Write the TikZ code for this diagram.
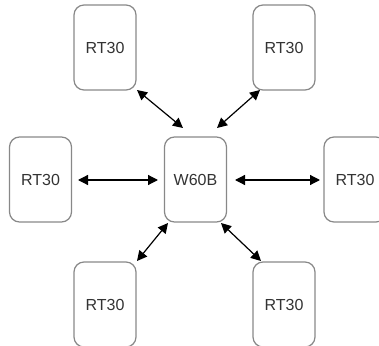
\documentclass[tikz,border=0pt]{standalone}
\usepackage{fontspec}
\setmainfont{Liberation Sans}
\usetikzlibrary{arrows.meta,calc}
\definecolor{boxline}{HTML}{888888}
\definecolor{txt}{HTML}{333333}
\begin{document}
\begin{tikzpicture}[x=0.75pt,y=-0.75pt,
  dev/.style={draw=boxline,line width=0.9pt,rounded corners=7.5pt,minimum width=62*0.75pt,minimum height=85*0.75pt,inner sep=0pt,text=txt,font=\fontsize{12pt}{14pt}\selectfont},
  link/.style={line width=0.9pt,{Triangle[length=7.5pt,width=7.5pt]}-{Triangle[length=7.5pt,width=7.5pt]}}]
\path[use as bounding box,clip] (0,0) rectangle (379,346);
\node[dev] (c) at (195.5,179.5) {W60B};
\node[dev] (tl) at (105,47.5) {RT30};
\node[dev] (tr) at (284,47.5) {RT30};
\node[dev] (l) at (40.5,179.5) {RT30};
\node[dev] (r) at (355,179.5) {RT30};
\node[dev] (bl) at (105,304.5) {RT30};
\node[dev] (br) at (284,304.5) {RT30};
\coordinate (tlA) at (137,90);
\coordinate (tlB) at (183,128);
\coordinate (trA) at (260,90);
\coordinate (trB) at (217,128);
\coordinate (lA) at (78,180);
\coordinate (lB) at (158,180);
\coordinate (rA) at (235,180);
\coordinate (rB) at (320,180);
\coordinate (blA) at (168,223);
\coordinate (blB) at (137,261);
\coordinate (brA) at (221,223);
\coordinate (brB) at (261,261);
\draw[link] (tlA) -- (tlB);
\draw[link] (trA) -- (trB);
\draw[link] (lA) -- (lB);
\draw[link] (rA) -- (rB);
\draw[link] (blA) -- (blB);
\draw[link] (brA) -- (brB);
\end{tikzpicture}
\end{document}
